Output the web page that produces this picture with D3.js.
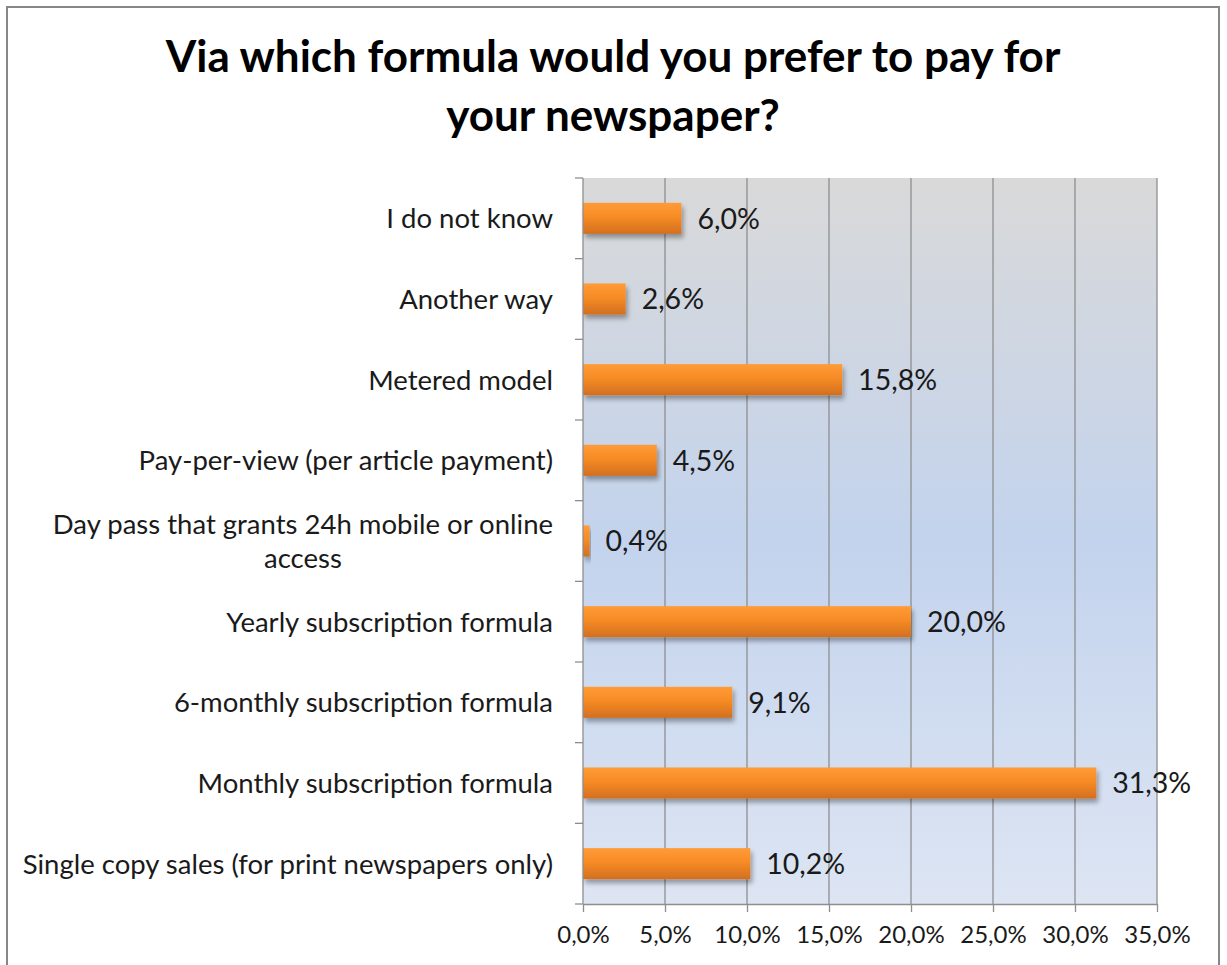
<!DOCTYPE html>
<html>
<head>
<meta charset="utf-8">
<script src="https://cdn.jsdelivr.net/npm/d3@7"></script>
<style>
  html, body { margin: 0; padding: 0; background: #fff; }
  svg { display: block; font-family: Lato, "Open Sans", sans-serif; }
</style>
</head>
<body>
<svg id="chart" width="1227" height="965"></svg>
<script>
// Survey answers, top to bottom as listed on the chart
const categories = [
  "I do not know",
  "Another way",
  "Metered model",
  "Pay-per-view (per article payment)",
  "Day pass that grants 24h mobile or online access",
  "Yearly subscription formula",
  "6-monthly subscription formula",
  "Monthly subscription formula",
  "Single copy sales (for print newspapers only)"
];
// Share of respondents, in percent
const shares = [6.0, 2.6, 15.8, 4.5, 0.4, 20.0, 9.1, 31.3, 10.2];
// Axis tick values, in percent
const tickValues = [0, 5, 10, 15, 20, 25, 30, 35];
const titleLines = ["Via which formula would you prefer to pay for", "your newspaper?"];

const fmt = v => v.toFixed(1).replace(".", ",") + "%";

const svg = d3.select("#chart");
const plot = { left: 583, right: 1157, top: 178, bottom: 904 };

const defs = svg.append("defs");
const bg = defs.append("linearGradient").attr("id", "plotBg")
  .attr("x1", 0).attr("y1", 0).attr("x2", 0).attr("y2", 1);
bg.append("stop").attr("offset", "0%").attr("stop-color", "#d9d9d9");
bg.append("stop").attr("offset", "50%").attr("stop-color", "#c3d3ed");
bg.append("stop").attr("offset", "100%").attr("stop-color", "#dde5f3");

const barGrad = defs.append("linearGradient").attr("id", "barFill")
  .attr("x1", 0).attr("y1", 0).attr("x2", 0).attr("y2", 1);
barGrad.append("stop").attr("offset", "0%").attr("stop-color", "#ff9b37");
barGrad.append("stop").attr("offset", "45%").attr("stop-color", "#f78b25");
barGrad.append("stop").attr("offset", "100%").attr("stop-color", "#d26f1f");

const shadow = defs.append("filter").attr("id", "barShadow")
  .attr("x", "-10%").attr("y", "-30%").attr("width", "130%").attr("height", "180%");
shadow.append("feGaussianBlur").attr("in", "SourceAlpha").attr("stdDeviation", 2.5).attr("result", "blur");
shadow.append("feOffset").attr("in", "blur").attr("dx", 2).attr("dy", 4).attr("result", "off");
shadow.append("feComponentTransfer").attr("in", "off").attr("result", "soft")
  .append("feFuncA").attr("type", "linear").attr("slope", 0.35);
const merge = shadow.append("feMerge");
merge.append("feMergeNode").attr("in", "soft");
merge.append("feMergeNode").attr("in", "SourceGraphic");

// Chart frame
svg.append("rect")
  .attr("x", 7).attr("y", 7).attr("width", 1212).attr("height", 980)
  .attr("fill", "#fff").attr("stroke", "#878787").attr("stroke-width", 2);

// Title
svg.append("text")
  .attr("x", 613).attr("y", 72)
  .attr("text-anchor", "middle")
  .attr("font-size", 44).attr("font-weight", "bold").attr("fill", "#000")
  .selectAll("tspan").data(titleLines).join("tspan")
  .attr("x", 613).attr("dy", (d, i) => i === 0 ? 0 : 59)
  .text(d => d);

const x = d3.scaleLinear().domain([0, 35]).range([plot.left, plot.right]);
const y = d3.scaleBand().domain(categories).range([plot.top, plot.bottom])
  .paddingInner(0.615).paddingOuter(0.3075);

// Plot background
svg.append("rect")
  .attr("x", plot.left).attr("y", plot.top)
  .attr("width", plot.right - plot.left).attr("height", plot.bottom - plot.top)
  .attr("fill", "url(#plotBg)");

// Vertical gridlines
svg.append("g").selectAll("line").data(tickValues.slice(1)).join("line")
  .attr("x1", d => x(d)).attr("x2", d => x(d))
  .attr("y1", plot.top).attr("y2", plot.bottom)
  .attr("stroke", "#8e8e8e").attr("stroke-width", 1.3);

// Bars
svg.append("g").selectAll("rect").data(categories).join("rect")
  .attr("x", x(0))
  .attr("y", d => y(d))
  .attr("width", (d, i) => x(shares[i]) - x(0))
  .attr("height", y.bandwidth())
  .attr("fill", "url(#barFill)")
  .attr("filter", "url(#barShadow)");

// Value labels
svg.append("g").selectAll("text").data(categories).join("text")
  .attr("x", (d, i) => x(shares[i]) + 16)
  .attr("y", d => y(d) + y.bandwidth() / 2)
  .attr("dy", "0.36em")
  .attr("font-size", 28.5).attr("fill", "#1a1a1a")
  .text((d, i) => fmt(shares[i]));

// Bottom axis
const xAxis = d3.axisBottom(x).tickValues(tickValues).tickFormat(d => fmt(d))
  .tickSizeInner(8).tickSizeOuter(0).tickPadding(14);
const gx = svg.append("g").attr("transform", `translate(0,${plot.bottom})`).call(xAxis);
gx.select(".domain").attr("stroke", "#8e8e8e").attr("stroke-width", 1.3);
gx.selectAll(".tick line").attr("stroke", "#8e8e8e").attr("stroke-width", 1.3);
gx.selectAll(".tick text").attr("font-size", 24).attr("fill", "#1a1a1a")
  .attr("font-family", "Lato, 'Open Sans', sans-serif");

// Left axis: line plus tick marks at category boundaries
const boundaries = categories.map(c => y(c) - y.step() * y.paddingInner() / 2)
  .concat([plot.bottom]);
const gy = svg.append("g");
gy.append("line")
  .attr("x1", plot.left).attr("x2", plot.left)
  .attr("y1", plot.top).attr("y2", plot.bottom)
  .attr("stroke", "#8e8e8e").attr("stroke-width", 1.3);
gy.selectAll("line.tick").data(boundaries).join("line").attr("class", "tick")
  .attr("x1", plot.left - 8).attr("x2", plot.left)
  .attr("y1", d => d).attr("y2", d => d)
  .attr("stroke", "#8e8e8e").attr("stroke-width", 1.3);

// Category labels (long ones wrap to two centred lines)
const wrapWidth = 535;
const labels = svg.append("g").selectAll("text").data(categories).join("text")
  .attr("font-size", 27.5).attr("fill", "#1a1a1a");
labels.each(function (d) {
  const t = d3.select(this);
  const words = d.split(" ");
  const lines = [];
  let cur = [];
  words.forEach(w => {
    const trial = cur.concat([w]).join(" ");
    t.text(trial);
    if (this.getComputedTextLength() > wrapWidth && cur.length) {
      lines.push(cur.join(" "));
      cur = [w];
    } else {
      cur.push(w);
    }
  });
  lines.push(cur.join(" "));
  t.text(null);
  const cy = y(d) + y.bandwidth() / 2;
  const lh = 34;
  if (lines.length === 1) {
    t.append("tspan").attr("x", 553).attr("y", cy).attr("dy", "0.36em")
      .attr("text-anchor", "end").text(lines[0]);
  } else {
    // measure the widest line so that the block is right-aligned and lines centred
    const tmp = t.append("tspan").text(lines[0]);
    const w0 = this.getComputedTextLength();
    tmp.remove();
    const cx = 553 - w0 / 2;
    lines.forEach((ln, k) => {
      t.append("tspan").attr("x", cx)
        .attr("y", cy + (k - (lines.length - 1) / 2) * lh)
        .attr("dy", "0.36em").attr("text-anchor", "middle").text(ln);
    });
  }
});
</script>
</body>
</html>
